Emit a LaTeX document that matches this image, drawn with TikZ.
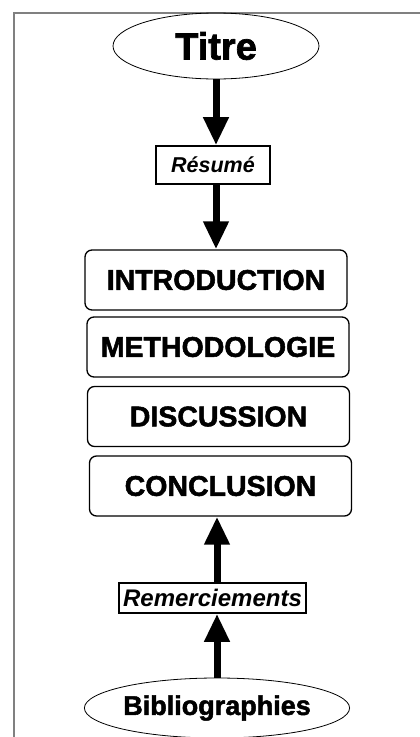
\documentclass[tikz,border=0pt]{standalone}
\usepackage{fontspec}
\setmainfont{Liberation Sans}[BoldFeatures={FakeBold=1.8}]
\usetikzlibrary{shapes.geometric,arrows.meta}

\begin{document}
\begin{tikzpicture}[x=1pt,y=-1pt,
    ovale/.style={draw, ellipse, line width=0.8pt, inner sep=0pt,
        minimum width=206pt, font=\fontsize{27}{29}\selectfont\bfseries},
    cadre/.style={draw, line width=1.6pt, inner sep=0pt,
        font=\fontsize{21.5}{23}\selectfont\bfseries\itshape},
    partie/.style={draw, rounded corners=7pt, line width=1.3pt,
        minimum width=262pt, minimum height=60pt,
        font=\fontsize{28.5}{30}\selectfont\bfseries},
    fleche/.style={line width=7pt,
        -{Triangle[width=24pt,length=28pt]}}]
    \useasboundingbox (0,0) rectangle (420,737);
    % cadre de la page
    \draw[gray, line width=1.5pt] (14,737) -- (14,13) -- (420,13);

    \node[ovale, minimum height=66pt, font=\fontsize{38}{40}\selectfont\bfseries]
        (titre) at (216,46) {Titre};
    \node[cadre, minimum width=114pt, minimum height=38pt] (resume) at (213,165) {Résumé};

    \node[partie] (intro) at (216,280) {INTRODUCTION};
    \node[partie] (metho) at (218,347) {METHODOLOGIE};
    \node[partie] (discu) at (218.5,416.5) {DISCUSSION};
    \node[partie] (concl) at (220.5,486) {CONCLUSION};

    \node[cadre, minimum width=187pt, minimum height=30pt,
        font=\fontsize{24}{26}\selectfont\bfseries\itshape] (remerc) at (212.5,598) {Remerciements};
    \node[ovale, minimum height=60pt] (biblio) at (217,708) {Bibliographies};

    % fleches
    \draw[fleche] (titre.south) -- (titre.south |- resume.north);
    \draw[fleche] (titre.south |- resume.south) -- (titre.south |- intro.north);
    \draw[fleche] (biblio.north) -- (biblio.north |- remerc.south);
    \draw[fleche] (biblio.north |- remerc.north) -- (biblio.north |- concl.south);
\end{tikzpicture}
\end{document}
